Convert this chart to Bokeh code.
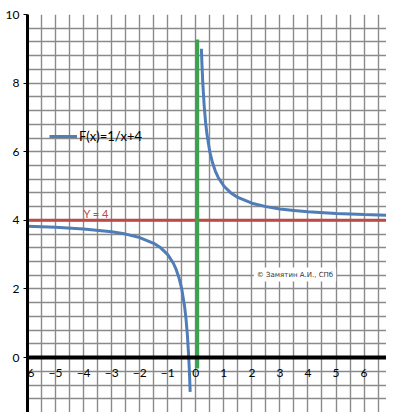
from bokeh.plotting import figure
from bokeh.models import (Range1d, FixedTicker, Legend, LegendItem, Label,
                          LinearAxis)
from bokeh.embed import file_html
from bokeh.resources import INLINE
import numpy as np

# ---- data ----
left_x = [-6, -5, -4, -3, -2.5, -2, -1.5, -1.25, -1, -0.8, -0.7, -0.6, -0.5,
          -0.4, -0.35, -0.3, -0.25, -0.22, -0.2]
left_y = [3.83, 3.8, 3.75, 3.67, 3.6, 3.5, 3.33, 3.2, 3.0, 2.75, 2.57, 2.33,
          2.0, 1.5, 1.14, 0.67, 0.0, -0.55, -1.0]
right_x = [0.2, 0.22, 0.25, 0.3, 0.35, 0.4, 0.5, 0.6, 0.7, 0.8, 1, 1.25, 1.5,
           2, 2.5, 3, 3.5, 4, 5, 6, 6.8]
right_y = [9.0, 8.55, 8.0, 7.33, 6.86, 6.5, 6.0, 5.67, 5.43, 5.25, 5.0, 4.8,
           4.67, 4.5, 4.4, 4.33, 4.29, 4.25, 4.2, 4.17, 4.15]
green_x = [0.05, 0.05]
green_y = [-0.32, 9.27]
red_x = [-6, 6.8]
red_y = [4, 4]
x_ticks = [-6, -5, -4, -3, -2, -1, 0, 1, 2, 3, 4, 5, 6]
y_ticks = [0, 2, 4, 6, 8, 10]
legend_text = "F(x)=1/x+4"
red_text = "Y = 4"
copyright_text = "© Замятин А.И., СПб"

FONT = "Lato"
BLUE = "#4F7DB8"
RED = "#BC4A46"
GREEN = "#3DA24F"

p = figure(width=386, height=412, output_backend="svg", toolbar_location=None,
           x_range=Range1d(-6, 6.8), y_range=Range1d(-1.6, 10),
           min_border_left=27, min_border_right=0, min_border_top=14,
           min_border_bottom=0, x_axis_location=None, y_axis_location=None)
p.outline_line_color = None
p.background_fill_color = "white"

# grid
p.xgrid.ticker = FixedTicker(ticks=list(np.arange(-6, 7.0, 0.5)))
p.ygrid.ticker = FixedTicker(ticks=list(np.round(np.arange(-1.6, 10.01, 0.4), 2)))
for g in (p.xgrid, p.ygrid):
    g.grid_line_color = "#8a8a8a"
    g.grid_line_width = 1.4

# y axis (left)
yax = LinearAxis(ticker=FixedTicker(ticks=y_ticks))
yax.axis_line_color = "black"
yax.axis_line_width = 3
yax.major_tick_out = 4
yax.major_tick_in = 0
yax.minor_tick_out = 0
yax.minor_tick_in = 0
yax.major_tick_line_color = "black"
yax.major_label_standoff = 4
yax.major_label_text_font = FONT
yax.major_label_text_font_size = "12px"
yax.major_label_text_color = "black"
p.add_layout(yax, "left")

# x axis placed at y = 0
xax = LinearAxis(ticker=FixedTicker(ticks=x_ticks), fixed_location=0)
xax.axis_line_color = "black"
xax.axis_line_width = 4
xax.major_tick_out = 0
xax.major_tick_in = 0
xax.minor_tick_out = 0
xax.minor_tick_in = 0
xax.major_label_standoff = 11
xax.major_label_text_font = FONT
xax.major_label_text_font_size = "12px"
xax.major_label_text_color = "black"
p.add_layout(xax, "below")

# lines
r_red = p.line(red_x, red_y, line_color=RED, line_width=3)
r_green = p.line(green_x, green_y, line_color=GREEN, line_width=4)
r_left = p.line(left_x, left_y, line_color=BLUE, line_width=3)
r_right = p.line(right_x, right_y, line_color=BLUE, line_width=3)

legend = Legend(items=[LegendItem(label=legend_text, renderers=[r_left])],
                location=(22, 268), margin=0, padding=0, spacing=0,
                glyph_width=28, glyph_height=16, label_height=16,
                label_standoff=2, label_text_font=FONT,
                label_text_font_size="13px", label_text_color="black",
                background_fill_alpha=0, border_line_color=None)
p.add_layout(legend, "center")

p.add_layout(Label(x=-4.0, y=4.2, text=red_text, text_color=RED,
                   text_font=FONT, text_font_size="11px",
                   text_baseline="alphabetic"))
p.add_layout(Label(x=2.07, y=2.42, text=copyright_text, text_color="#333333",
                   text_font="DejaVu Sans", text_font_size="7px",
                   text_baseline="middle", background_fill_color="white",
                   padding=3))

open("out.html", "w").write(file_html(p, INLINE))
